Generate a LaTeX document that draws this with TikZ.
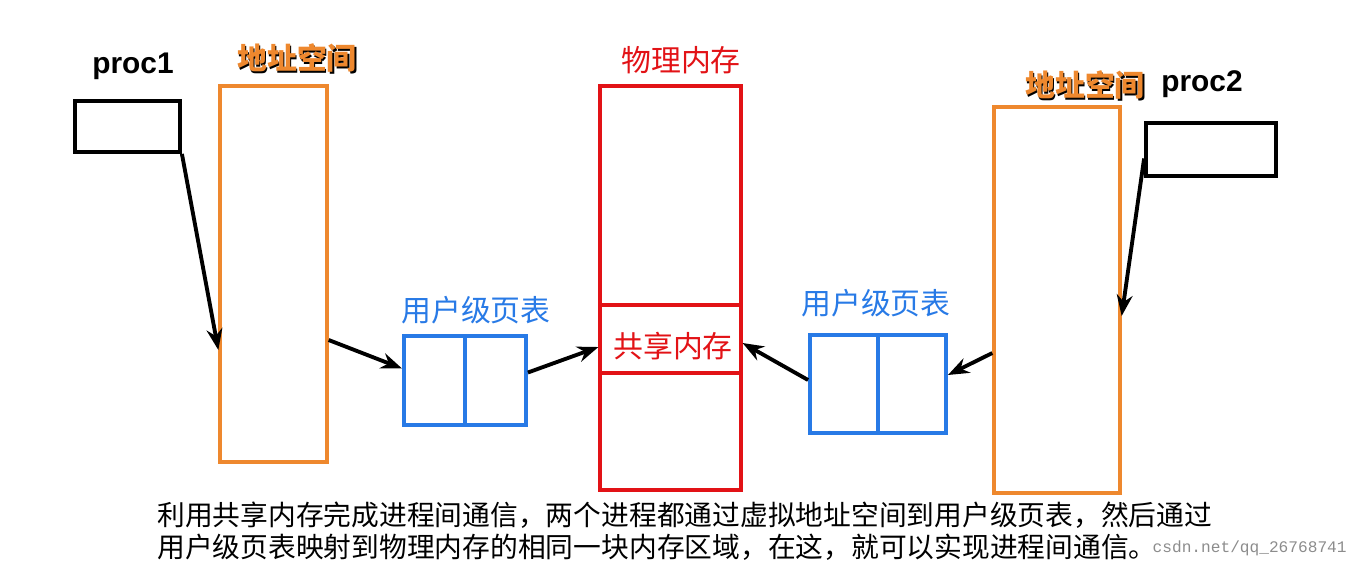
\documentclass[tikz,border=0pt]{standalone}
\usepackage{fontspec}
\setmainfont{Noto Sans CJK SC}
\newfontfamily\latinfont{Liberation Sans}
\newfontfamily\wmfont{Liberation Mono}
\usetikzlibrary{calc,arrows.meta}

\definecolor{addrorange}{RGB}{238,136,46}
\definecolor{tableblue}{RGB}{40,122,230}
\definecolor{memred}{RGB}{226,18,22}

\tikzset{
  procbox/.style={draw=black, line width=2.2pt, inner sep=0pt},
  addrbox/.style={draw=addrorange, line width=1.9pt, inner sep=0pt},
  tablebox/.style={draw=tableblue, line width=2.2pt, inner sep=0pt},
  membox/.style={draw=memred, line width=1.8pt, inner sep=0pt},
  maparrow/.style={-{Stealth[length=12pt,width=9pt]}, line width=2.2pt, black},
  proclabel/.style={font=\latinfont\bfseries\fontsize{17pt}{20pt}\selectfont},
  cjklabel/.style={font=\fontsize{17pt}{20pt}\selectfont},
  addrlabel/.style={font=\bfseries\fontsize{17pt}{20pt}\selectfont},
  note/.style={font=\fontsize{15.8pt}{18pt}\selectfont, anchor=west, inner sep=0pt}
}

\begin{document}
\begin{tikzpicture}[x=0.02cm, y=-0.02cm]
    \useasboundingbox (0,0) rectangle (1359,569);

    % left process
    \node[procbox, minimum width=2.1cm, minimum height=1.02cm] (proc1) at (127.5,126.5) {};
    \node[proclabel] (proc1label) at (133,66) {proc1};
    \node[addrbox, minimum width=2.14cm, minimum height=7.52cm] (addr1) at (273.5,274) {};
    \node[addrlabel, text=black] (addr1shadow) at (298.5,59.5) {地址空间};
    \node[addrlabel, text=addrorange] (addr1label) at (297,58) {地址空间};
    \node[tablebox, minimum width=2.44cm, minimum height=1.78cm] (pt1) at (465,380.5) {};
    \draw[tableblue, line width=2.2pt] (pt1.north) -- (pt1.south);
    \node[cjklabel, text=tableblue] (pt1label) at (476,310) {用户级页表};

    % physical memory
    \node[membox, minimum width=2.82cm, minimum height=8.08cm] (mem) at (670.5,288) {};
    \node[cjklabel, text=memred] (memlabel) at (681,60) {物理内存};
    \node[membox, minimum width=2.82cm, minimum height=1.36cm] (shared) at (670.5,339) {};
    \node[cjklabel, text=memred] (sharedlabel) at (673,346) {共享内存};

    % right process
    \node[procbox, minimum width=2.6cm, minimum height=1.06cm] (proc2) at (1211,149.5) {};
    \node[proclabel] (proc2label) at (1202,84) {proc2};
    \node[addrbox, minimum width=2.52cm, minimum height=7.72cm] (addr2) at (1057,300) {};
    \node[addrlabel, text=black] (addr2shadow) at (1086.5,86.5) {地址空间};
    \node[addrlabel, text=addrorange] (addr2label) at (1085,85) {地址空间};
    \node[tablebox, minimum width=2.72cm, minimum height=1.96cm] (pt2) at (878,384) {};
    \draw[tableblue, line width=2.2pt] (pt2.north) -- (pt2.south);
    \node[cjklabel, text=tableblue] (pt2label) at (876,303) {用户级页表};

    \draw[maparrow] (proc1.south east) -- ($(addr1.west)+(0,76)$);
    \draw[maparrow] ($(addr1.east)+(0,66)$) -- ($(pt1.west)+(0,-12)$);
    \draw[maparrow] ($(pt1.east)+(0,-8)$) -- ($(shared.west)+(0,8)$);
    \draw[maparrow] ($(pt2.west)+(0,-4)$) -- ($(shared.east)+(0,4)$);
    \draw[maparrow] ($(addr2.west)+(0,53)$) -- ($(pt2.east)+(0,-9)$);
    \draw[maparrow] ($(proc2.west)+(0,9)$) -- ($(addr2.east)+(0,16)$);

    \node[note] (note1) at (157,515) {利用共享内存完成进程间通信，两个进程都通过虚拟地址空间到用户级页表，然后通过};
    \node[note] (note2) at (157,547) {用户级页表映射到物理内存的相同一块内存区域，在这，就可以实现进程间通信。};
    \node[font=\wmfont\fontsize{9.2pt}{11pt}\selectfont, text=black!45, anchor=east, inner sep=0pt] (mark) at (1347,548) {csdn.net/qq\_26768741};
\end{tikzpicture}
\end{document}
